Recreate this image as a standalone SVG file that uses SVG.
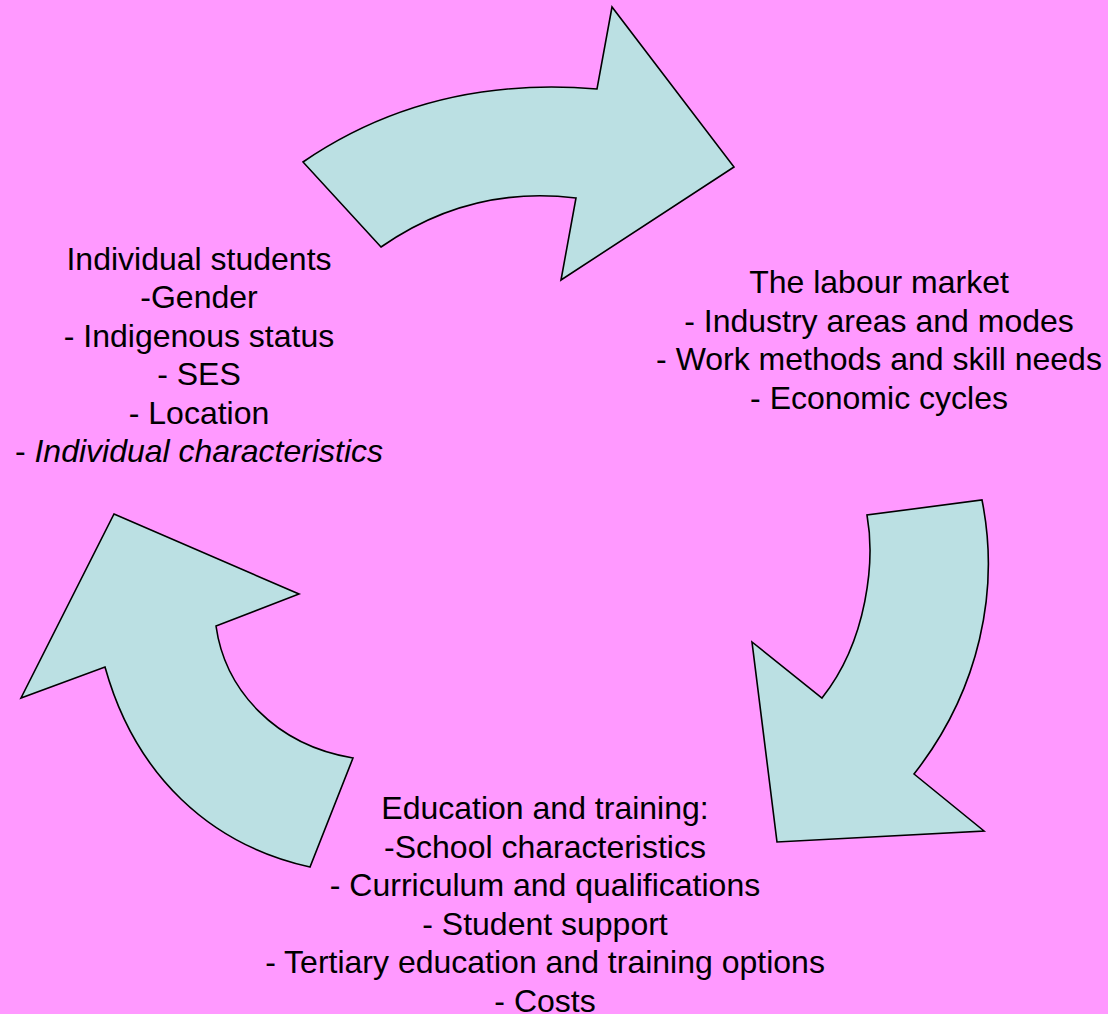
<svg xmlns="http://www.w3.org/2000/svg" width="1108" height="1014" viewBox="0 0 1108 1014">
<style>
.arrow{fill:#BBE0E3;stroke:#000;stroke-width:1.6;stroke-linejoin:miter}
.lbl{font-family:"Liberation Sans",Arial,sans-serif;font-size:32px;fill:#000;text-anchor:middle}
</style>
<rect width="1108" height="1014" fill="#FF99FF"/>
<g id="connectors">
<path id="arrow-top" class="arrow" d="M303,162 Q430,75 597,89 L612,7 L734,167 L561,280 L576,198 Q470,185 381,247 Z"/>
<path id="arrow-right" class="arrow" d="M982,500 C1000,590 980,690 914,774 L984,831 L777,842 L752,642 L822,698 C868,640 875,560 867,515 Z"/>
<path id="arrow-left" class="arrow" d="M114,514 L299,594 L216,626 C225,690 275,745 353,758 L310,867 C210,845 135,775 105,667 L21,698 Z"/>
</g>
<g id="node-students">
<text class="lbl" x="199" y="269.5">Individual students</text>
<text class="lbl" x="199" y="308">-Gender</text>
<text class="lbl" x="199" y="346.5">- Indigenous status</text>
<text class="lbl" x="199" y="385">- SES</text>
<text class="lbl" x="199" y="423.5">- Location</text>
<text class="lbl" x="199" y="462">- <tspan font-style="italic">Individual characteristics</tspan></text>
</g>
<g id="node-labour">
<text class="lbl" x="879" y="293">The labour market</text>
<text class="lbl" x="879" y="331.5">- Industry areas and modes</text>
<text class="lbl" x="879" y="370">- Work methods and skill needs</text>
<text class="lbl" x="879" y="408.5">- Economic cycles</text>
</g>
<g id="node-education">
<text class="lbl" x="545" y="819">Education and training:</text>
<text class="lbl" x="545" y="857.5">-School characteristics</text>
<text class="lbl" x="545" y="896">- Curriculum and qualifications</text>
<text class="lbl" x="545" y="934.5">- Student support</text>
<text class="lbl" x="545" y="973">- Tertiary education and training options</text>
<text class="lbl" x="545" y="1011.5">- Costs</text>
</g>
</svg>
